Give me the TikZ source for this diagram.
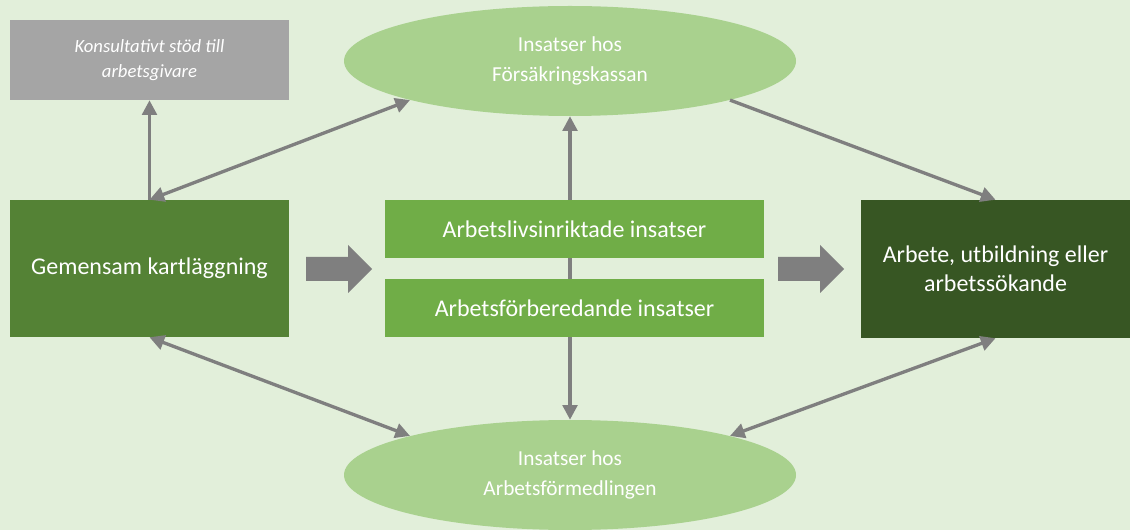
\documentclass[tikz,border=0pt]{standalone}
\usepackage{fontspec}
\setmainfont{Carlito}
\usetikzlibrary{arrows.meta,shapes.geometric}

\definecolor{bggreen}{HTML}{E2EFDA}
\definecolor{stodgrey}{HTML}{A5A5A5}
\definecolor{ovalgreen}{HTML}{A9D18E}
\definecolor{kartgreen}{HTML}{548235}
\definecolor{insgreen}{HTML}{70AD47}
\definecolor{maldark}{HTML}{375623}
\definecolor{arrowgrey}{HTML}{7F7F7F}

\tikzset{
  box/.style={rectangle, inner sep=0pt, text=white, align=center,
    font=\fontsize{18}{22}\selectfont},
  oval/.style={ellipse, fill=ovalgreen, inner sep=0pt, text=white, align=center,
    minimum width=339pt, minimum height=82.5pt, font=\fontsize{16}{22}\selectfont},
  link/.style={draw=arrowgrey, line width=2.5pt,
    arrows={-Triangle[length=11pt,width=11pt]}},
  both/.style={link, arrows={Triangle[length=11pt,width=11pt]-Triangle[length=11pt,width=11pt]}},
  pics/blockarrow/.style={code={
    \fill[arrowgrey] (0,-12) -- (42,-12) -- (42,-24) -- (66,0) -- (42,24) -- (42,12) -- (0,12) -- cycle;}}
}

\begin{document}
\begin{tikzpicture}[x=0.75pt, y=-0.75pt]
  \fill[bggreen] (0,0) rectangle (1130,530);
  \useasboundingbox (0,0) rectangle (1130,530);

  % ovals
  \node[oval] (fk) at (570,61) {Insatser hos\\Försäkringskassan};
  \node[oval] (af) at (570,475) {Insatser hos\\Arbetsförmedlingen};

  % line behind the middle boxes
  \draw[both] (fk.south) -- (af.north);

  % boxes
  \node[box, fill=stodgrey, minimum width=209.25pt, minimum height=60pt,
    font=\fontsize{14}{19}\selectfont\itshape] (kons) at (149.5,60)
    {Konsultativt stöd till\\arbetsgivare};
  \node[box, fill=kartgreen, minimum width=209.25pt, minimum height=102.75pt] (gm) at (149.5,268.5)
    {Gemensam kartläggning};
  \node[box, fill=insgreen, minimum width=284.25pt, minimum height=43.5pt] (ali) at (574.5,229)
    {Arbetslivsinriktade insatser};
  \node[box, fill=insgreen, minimum width=284.25pt, minimum height=43.5pt] (afi) at (574.5,308)
    {Arbetsförberedande insatser};
  \node[box, fill=maldark, minimum width=201.75pt, minimum height=103.5pt] (ab) at (995.5,269)
    {Arbete, utbildning eller\\arbetssökande};

  % block arrows
  \pic at (306,269) {blockarrow};
  \pic at (778,269) {blockarrow};

  % connectors
  \draw[link] (gm.north) -- (kons.south);
  \draw[both] (gm.north) -- (fk.south west);
  \draw[both] (gm.south) -- (af.north west);
  \draw[link] (fk.south east) -- (ab.north);
  \draw[both] (ab.south) -- (af.north east);
\end{tikzpicture}
\end{document}
